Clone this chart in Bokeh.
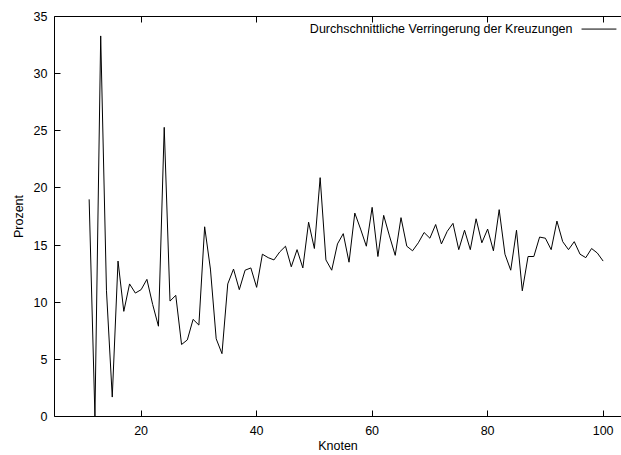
from bokeh.plotting import figure
from bokeh.models import LinearAxis, FixedTicker, Range1d, Label
from bokeh.embed import file_html
from bokeh.resources import INLINE

# ---- data ----
knoten = list(range(11, 101))
prozent = [
    19.0, 0.0, 33.3, 11.0, 1.7, 13.6, 9.2, 11.6, 10.8, 11.1,   # 11-20
    12.0, 9.8, 7.9, 25.3, 10.1, 10.6, 6.3, 6.7, 8.5, 8.0,      # 21-30
    16.6, 12.9, 6.8, 5.5, 11.6, 12.9, 11.1, 12.8, 13.0, 11.3,  # 31-40
    14.2, 13.9, 13.7, 14.4, 14.9, 13.1, 14.6, 13.0, 17.0, 14.7,  # 41-50
    20.9, 13.7, 12.8, 15.1, 16.0, 13.5, 17.8, 16.4, 14.9, 18.3,  # 51-60
    14.0, 17.6, 15.8, 14.1, 17.4, 14.9, 14.5, 15.2, 16.1, 15.6,  # 61-70
    16.8, 15.1, 16.2, 16.9, 14.6, 16.3, 14.6, 17.3, 15.2, 16.4,  # 71-80
    14.5, 18.1, 14.2, 12.8, 16.3, 11.0, 14.0, 14.0, 15.7, 15.6,  # 81-90
    14.6, 17.1, 15.3, 14.6, 15.3, 14.2, 13.9, 14.7, 14.3, 13.6,  # 91-100
]
x_ticks = [20, 40, 60, 80, 100]
y_ticks = [0, 5, 10, 15, 20, 25, 30, 35]
series_name = "Durchschnittliche Verringerung der Kreuzungen"
x_label = "Knoten"
y_label = "Prozent"

# ---- layout / style ----
FONT = "Liberation Sans"
FS = "12.5px"
X0, X1 = 5, 103.18
Y0, Y1 = 0, 35

p = figure(width=621, height=455, output_backend="svg", toolbar_location=None,
           x_range=Range1d(X0, X1), y_range=Range1d(Y0, Y1),
           min_border_left=54, min_border_right=0, min_border_top=16,
           min_border_bottom=38)
p.outline_line_color = None
p.xgrid.visible = False
p.ygrid.visible = False
p.background_fill_color = "white"
p.border_fill_color = "white"

def style_axis(ax, ticks):
    ax.ticker = FixedTicker(ticks=ticks)
    ax.axis_line_color = "black"
    ax.axis_line_width = 1
    ax.major_tick_line_color = "black"
    ax.major_tick_in = 6
    ax.major_tick_out = 0
    ax.minor_tick_line_color = None
    ax.major_label_text_font = FONT
    ax.major_label_text_font_size = FS
    ax.major_label_text_color = "black"
    ax.axis_label_text_font = FONT
    ax.axis_label_text_font_size = FS
    ax.axis_label_text_font_style = "normal"
    ax.axis_label_text_color = "black"

style_axis(p.xaxis[0], x_ticks)
p.xaxis[0].axis_label = x_label
p.xaxis[0].major_label_standoff = 9
p.xaxis[0].axis_label_standoff = 1

style_axis(p.yaxis[0], y_ticks)
p.yaxis[0].axis_label = y_label
p.yaxis[0].major_label_standoff = 7
p.yaxis[0].axis_label_standoff = 5

top = LinearAxis()
style_axis(top, x_ticks)
top.major_label_text_color = None
top.major_label_text_font_size = "1px"
top.major_label_standoff = 0
p.add_layout(top, "above")

p.line(knoten, prozent, line_color="black", line_width=1)

# legend (gnuplot style: text, then sample line)
LEG_Y = 33.9
p.add_layout(Label(x=94.7, y=LEG_Y, text=series_name, text_align="right",
                   text_baseline="middle", text_font=FONT, text_font_size=FS,
                   text_color="black"))
p.line([96.26, 102.3], [LEG_Y, LEG_Y], line_color="black", line_width=1)

open("out.html", "w").write(file_html(p, INLINE))
